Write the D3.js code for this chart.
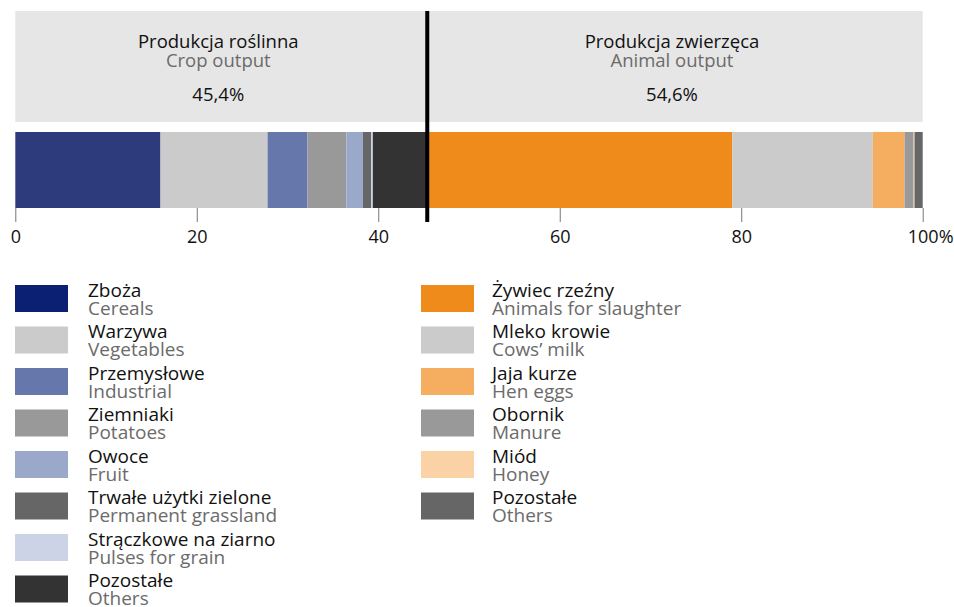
<!DOCTYPE html>
<html>
<head>
<meta charset="utf-8">
<script src="https://cdn.jsdelivr.net/npm/d3@7"></script>
<style>
  body { margin: 0; background: #fff; }
  svg { display: block; }
  text { font-family: "Open Sans", "Noto Sans", sans-serif; }
</style>
</head>
<body>
<svg id="chart" width="954" height="607"></svg>
<script>
// Structure of agricultural output (%)
const groupTitlesPl = ["Produkcja roślinna", "Produkcja zwierzęca"];
const groupTitlesEn = ["Crop output", "Animal output"];
const groupShares = [45.4, 54.6];

const cropLabelsPl = ["Zboża", "Warzywa", "Przemysłowe", "Ziemniaki", "Owoce",
  "Trwałe użytki zielone", "Strączkowe na ziarno", "Pozostałe"];
const cropLabelsEn = ["Cereals", "Vegetables", "Industrial", "Potatoes", "Fruit",
  "Permanent grassland", "Pulses for grain", "Others"];
const cropShares = [16.0, 11.8, 4.4, 4.3, 1.8, 0.9, 0.2, 6.0];

const animalLabelsPl = ["Żywiec rzeźny", "Mleko krowie", "Jaja kurze", "Obornik", "Miód", "Pozostałe"];
const animalLabelsEn = ["Animals for slaughter", "Cows’ milk", "Hen eggs", "Manure", "Honey", "Others"];
const animalShares = [33.6, 15.5, 3.5, 1.0, 0.1, 0.9];

const axisTicks = [0, 20, 40, 60, 80, 100];

// Colours
const cropBarColors = ["#2d3a7c", "#cbcbcb", "#6677ab", "#999999", "#9aa8ca", "#666666", "#cdd3e6", "#333333"];
const cropKeyColors = ["#0b1f73", "#cbcbcb", "#6677ab", "#999999", "#9aa8ca", "#666666", "#cdd3e6", "#333333"];
const animalColors = ["#ef8b1a", "#cbcbcb", "#f5ae5f", "#999999", "#fad2a5", "#666666"];

const svg = d3.select("#chart");

const x = d3.scaleLinear().domain([0, 100]).range([15.3, 922.7]);

const headerTop = 11, headerBottom = 122;
const barTop = 132, barBottom = 208;

// Header panel
svg.append("rect")
  .attr("x", x(0)).attr("y", headerTop)
  .attr("width", x(100) - x(0)).attr("height", headerBottom - headerTop)
  .attr("fill", "#e6e6e6");

// Stacked bar segments
const segments = [];
let acc = 0;
cropShares.forEach((v, i) => { segments.push({ x0: acc, x1: acc + v, color: cropBarColors[i] }); acc += v; });
animalShares.forEach((v, i) => { segments.push({ x0: acc, x1: acc + v, color: animalColors[i] }); acc += v; });

svg.append("g").selectAll("rect")
  .data(segments)
  .join("rect")
  .attr("x", d => x(d.x0))
  .attr("y", barTop)
  .attr("width", d => x(d.x1) - x(d.x0))
  .attr("height", barBottom - barTop)
  .attr("fill", d => d.color);

// Axis
const axis = d3.axisBottom(x)
  .tickValues(axisTicks)
  .tickSize(14)
  .tickPadding(8)
  .tickFormat(d3.format("d"));

const axisG = svg.append("g")
  .attr("transform", `translate(0,${barBottom})`)
  .call(axis);
axisG.select(".domain").remove();
axisG.selectAll(".tick line").attr("stroke", "#777").attr("stroke-width", 1);
axisG.selectAll(".tick text")
  .attr("font-size", 18)
  .attr("fill", "#111")
  .style("font-family", "'Open Sans', sans-serif");

// Percent sign trailing the last tick label
axisG.selectAll(".tick").filter(d => d === 100).select("text")
  .each(function () {
    const t = d3.select(this);
    const w = this.getComputedTextLength();
    t.attr("text-anchor", "start").attr("x", -w / 2);
    t.append("tspan").text("%");
  });

// Group divider
const split = groupShares[0];
svg.append("line")
  .attr("x1", x(split)).attr("x2", x(split))
  .attr("y1", headerTop).attr("y2", 222)
  .attr("stroke", "#000").attr("stroke-width", 4);

// Group titles: Polish name, English name, share
const groupSpans = [[0, split], [split, 100]];
const fmtShare = v => d3.format(".1f")(v).replace(".", ",") + "%";
groupSpans.forEach((s, i) => {
  const cx = (x(s[0]) + x(s[1])) / 2 - 3;
  const t = svg.append("text")
    .attr("text-anchor", "middle")
    .attr("font-size", 18.5)
    .attr("x", cx).attr("y", 48);
  t.append("tspan").attr("x", cx).attr("fill", "#111").text(groupTitlesPl[i]);
  t.append("tspan").attr("x", cx).attr("dy", 19).attr("fill", "#6b6b6b").text(groupTitlesEn[i]);
  t.append("tspan").attr("x", cx).attr("dy", 34).attr("fill", "#111").text(fmtShare(groupShares[i]));
});

// Legends: swatch plus a two-line label (Polish / English)
const rowTop = 285, rowStep = 41.5;
function legend(colX, textX, pl, en, colors) {
  const rows = svg.append("g").selectAll("g")
    .data(pl.map((p, i) => ({ pl: p, en: en[i], color: colors[i], i })))
    .join("g")
    .attr("transform", d => `translate(0,${rowTop + d.i * rowStep})`);
  rows.append("rect")
    .attr("x", colX).attr("y", 0)
    .attr("width", 53).attr("height", 27)
    .attr("fill", d => d.color);
  const t = rows.append("text")
    .attr("x", textX).attr("y", 11.5)
    .attr("font-size", 19);
  t.append("tspan").attr("x", textX).attr("fill", "#111").text(d => d.pl);
  t.append("tspan").attr("x", textX).attr("dy", 18).attr("fill", "#6b6b6b").text(d => d.en);
}
legend(15, 88, cropLabelsPl, cropLabelsEn, cropKeyColors);
legend(421, 492, animalLabelsPl, animalLabelsEn, animalColors);
</script>
</body>
</html>
